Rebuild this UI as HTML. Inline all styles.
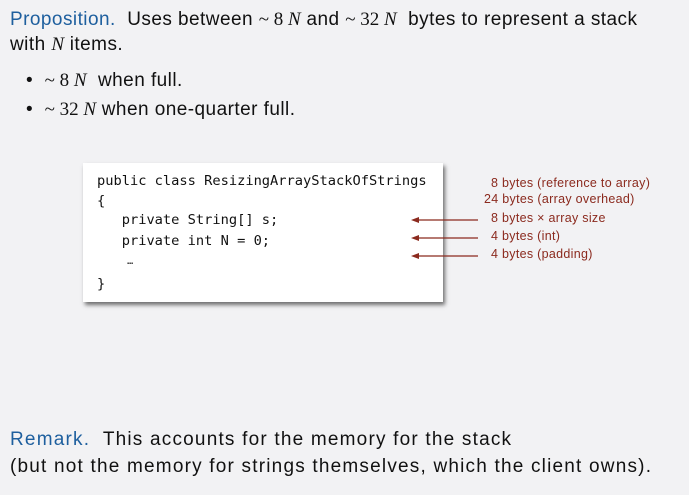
<!DOCTYPE html>
<html><head><style>
body{margin:0;width:689px;height:495px;background:#f2f2f4;position:relative;overflow:hidden;font-family:"Liberation Sans",sans-serif;color:#111}
.t{position:absolute;font-size:19px;letter-spacing:1.2px;white-space:nowrap}
.top{letter-spacing:0.45px}
.b{color:#1e5f9e}
.s{font-family:"Liberation Serif",serif;letter-spacing:0}
.box{position:absolute;left:83px;top:163px;width:360px;height:139px;background:#fff;box-shadow:2px 3px 4px rgba(0,0,0,.55)}
.c{position:absolute;font-family:"DejaVu Sans Mono","Liberation Mono",monospace;font-size:13.7px;white-space:pre}
.r{position:absolute;font-size:12.5px;letter-spacing:0.3px;color:#8b2a1e;white-space:nowrap}
</style></head><body>
<div class="t top" style="left:10px;top:9px"><span class="b">Proposition.</span>&nbsp; Uses between <span class="s">~ 8 <i>N</i></span> and <span class="s">~ 32 <i>N</i></span>&nbsp; bytes to represent a stack</div>
<div class="t top" style="left:10px;top:34px">with <span class="s"><i>N</i></span> items.</div>
<div class="t top" style="left:26px;top:70px">•&nbsp; <span class="s">~ 8 <i>N</i></span>&nbsp; when full.</div>
<div class="t top" style="left:26px;top:99px">•&nbsp; <span class="s">~ 32 <i>N</i></span> when one-quarter full.</div>
<div class="box"></div>
<div class="c" style="left:97px;top:173px">public class ResizingArrayStackOfStrings</div>
<div class="c" style="left:97px;top:193px">{</div>
<div class="c" style="left:97px;top:212px">   private String[] s;</div>
<div class="c" style="left:97px;top:233px">   private int N = 0;</div>
<div class="c" style="left:97px;top:256px;font-size:10px">     …</div>
<div class="c" style="left:97px;top:276px">}</div>
<div class="r" style="left:491px;top:176px">8 bytes (reference to array)</div>
<div class="r" style="left:484px;top:192px">24 bytes (array overhead)</div>
<div class="r" style="left:491px;top:211px">8 bytes × array size</div>
<div class="r" style="left:491px;top:229px">4 bytes (int)</div>
<div class="r" style="left:491px;top:247px">4 bytes (padding)</div>
<svg style="position:absolute;left:0;top:0" width="689" height="495">
<g stroke="#8b2a1e" stroke-width="1.3" fill="#8b2a1e">
<line x1="418" y1="220" x2="478" y2="220"/><polygon points="411,220 419,217 419,223" stroke="none"/>
<line x1="418" y1="238" x2="478" y2="238"/><polygon points="411,238 419,235 419,241" stroke="none"/>
<line x1="418" y1="256" x2="478" y2="256"/><polygon points="411,256 419,253 419,259" stroke="none"/>
</g></svg>
<div class="t" style="left:10px;top:429px"><span class="b">Remark.</span>&nbsp; This accounts for the memory for the stack</div>
<div class="t" style="left:10px;top:456px">(but not the memory for strings themselves, which the client owns).</div>
</body></html>
